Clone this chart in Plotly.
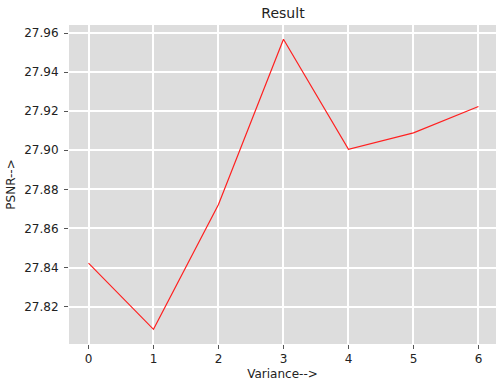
import plotly.graph_objects as go

variance = [0, 1, 2, 3, 4, 5, 6]
psnr = [27.8423, 27.8084, 27.8723, 27.9568, 27.9005, 27.9089, 27.9224]
y_ticks = [27.82, 27.84, 27.86, 27.88, 27.90, 27.92, 27.94, 27.96]

fig = go.Figure()
fig.add_trace(go.Scatter(x=variance, y=psnr, mode="lines",
                         line=dict(color="#ff2020", width=1.2)))

font = dict(family="DejaVu Sans", size=12, color="#222222")
fig.update_layout(
    width=496, height=385,
    margin=dict(l=69, r=0, t=25, b=41, autoexpand=False),
    paper_bgcolor="white", plot_bgcolor="#dddddd",
    showlegend=False,
    font=font,
    title=dict(text="Result", x=283 / 496, xanchor="center", y=1 - 13/385, yanchor="middle",
               font=dict(family="DejaVu Sans", size=14, color="#222222")),
)
fig.update_xaxes(range=[-0.3, 6.27], tickvals=variance, showgrid=True, gridcolor="white", gridwidth=2,
                 zeroline=False, showline=False, ticks="outside", ticklen=4, tickcolor="#555555",
                 tickfont=font, automargin=False,
                 title=dict(text="Variance-->", font=font, standoff=4))
fig.update_yaxes(range=[27.8009, 27.9641], tickvals=y_ticks, tickformat=".2f", showgrid=True,
                 gridcolor="white", gridwidth=2, zeroline=False, showline=False,
                 ticks="outside", ticklen=4, tickcolor="#555555", tickfont=font, automargin=False,
                 ticklabelstandoff=3,
                 title=dict(text="PSNR-->", font=font, standoff=6))

fig.write_html("out.html", config={"displayModeBar": False},
               post_script="document.body.style.margin='0';")
